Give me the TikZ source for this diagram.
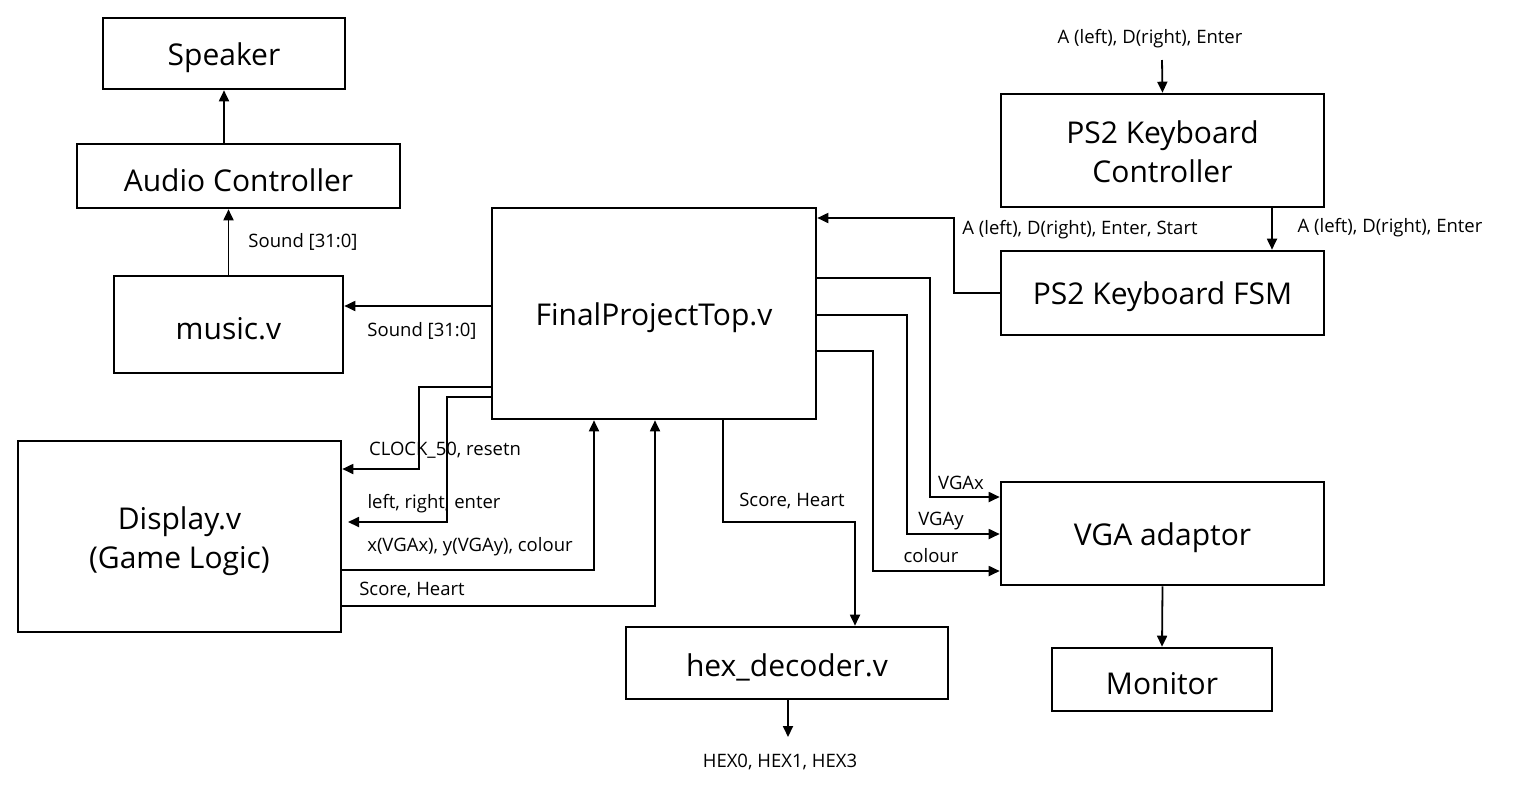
\documentclass[tikz,border=0pt]{standalone}
\usepackage{fontspec}
\setmainfont{Open Sans}
\usetikzlibrary{arrows.meta}
\newcommand{\twoline}[2]{\raisebox{-5pt}[\height][\depth]{\begin{tabular}{@{}c@{}}#1\\#2\end{tabular}}}
\begin{document}
\begin{tikzpicture}[x=1pt,y=-1pt,
  blk/.style={draw,line width=2.6pt,inner sep=0pt,align=center,font=\fontsize{30}{39}\selectfont,
    execute at begin node={\rule{0pt}{31pt}}},
  arr/.style={line width=1.8pt,-{Triangle[length=11pt,width=10pt]}},
  lbl/.style={inner sep=0pt,font=\fontsize{18.5}{22}\selectfont}]
\useasboundingbox[fill=white] (0,0) rectangle (1517,793);
\node[blk,minimum width=242pt,minimum height=71pt] (Speaker) at (224,53.5) {Speaker};
\node[blk,minimum width=323pt,minimum height=64pt] (Audio) at (238.5,176) {Audio Controller};
\node[blk,minimum width=229pt,minimum height=97pt] (music) at (228.5,324.5) {music.v};
\node[blk,minimum width=324pt,minimum height=211pt] (Top) at (654,313.5) {FinalProjectTop.v};
\node[blk,minimum width=323pt,minimum height=113pt] (PSC) at (1162.5,150.5) {\twoline{PS2 Keyboard}{Controller}};
\node[blk,minimum width=323pt,minimum height=84pt] (FSM) at (1162.5,293) {PS2 Keyboard FSM};
\node[blk,minimum width=323pt,minimum height=191pt] (Disp) at (179.5,536.5) {\twoline{Display.v}{(Game Logic)}};
\node[blk,minimum width=322pt,minimum height=72pt] (hex) at (787,663) {hex\_decoder.v};
\node[blk,minimum width=323pt,minimum height=103pt] (VGA) at (1162.5,533.5) {VGA adaptor};
\node[blk,minimum width=220pt,minimum height=63pt] (Mon) at (1162,679.5) {Monitor};
\coordinate (kin) at (1162,60);
\coordinate (hexout) at (788,737);
% connectors
\draw[arr] (Speaker.south |- Audio.north) -- (Speaker.south);
\draw[arr] (music.north) -- (music.north |- Audio.south);
\node[lbl] (l1) at (303,242) {Sound [31:0]};
\draw[arr] (Top.west |- 0,306) -- (music.east |- 0,306);
\node[lbl] (l2) at (422,331) {Sound [31:0]};
\draw[arr] (kin) -- (PSC.north);
\node[lbl] (l3) at (1150,39) {A (left), D(right), Enter};
\draw[arr] (PSC.south -| 1272,0) -- (FSM.north -| 1272,0);
\node[lbl] (l4) at (1390,228) {A (left), D(right), Enter};
\draw[arr] (FSM.west) -| (954,218) -- (Top.east |- 0,218);
\node[lbl] (l5) at (1080,230) {A (left), D(right), Enter, Start};
\draw[arr] (Top.east |- 0,278) -| (930,497) -- (VGA.west |- 0,497);
\node[lbl] (l6) at (961,483) {VGAx};
\draw[arr] (Top.east |- 0,315) -| (907,534) -- (VGA.west |- 0,534);
\node[lbl] (l7) at (941,521) {VGAy};
\draw[arr] (Top.east |- 0,351) -| (873,571) -- (VGA.west |- 0,571);
\node[lbl] (l8) at (931,556) {colour};
\draw[arr] (Top.west |- 0,387) -| (419,469) -- (Disp.east |- 0,469);
\node[lbl] (l9) at (445,450) {CLOCK\_50, resetn};
\draw[arr] (Top.west |- 0,397) -| (447,522) -- (348,522);
\node[lbl] (l10) at (434,504) {left, right, enter};
\draw[arr] (Disp.east |- 0,570) -| (Top.south -| 594,0);
\node[lbl] (l11) at (470,547) {x(VGAx), y(VGAy), colour};
\draw[arr] (Disp.east |- 0,606) -| (Top.south -| 655,0);
\node[lbl] (l12) at (412,590) {Score, Heart};
\draw[arr] (Top.south -| 723,0) |- (855,522) -- (hex.north -| 855,0);
\node[lbl] (l13) at (792,501) {Score, Heart};
\draw[arr] (hex.south -| 788,0) -- (hexout);
\node[lbl] (l14) at (780,762) {HEX0, HEX1, HEX3};
\draw[arr] (VGA.south) -- (Mon.north);
\end{tikzpicture}
\end{document}
